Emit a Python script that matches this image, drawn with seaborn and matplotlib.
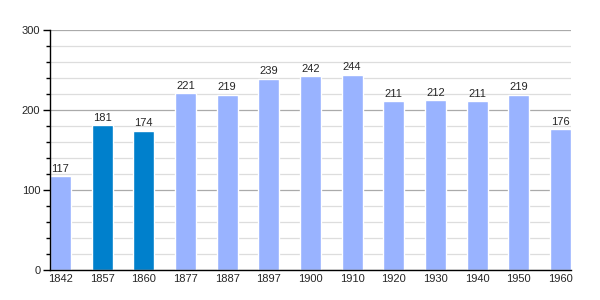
import matplotlib
matplotlib.use("Agg")
import matplotlib.pyplot as plt
import seaborn as sns
import pandas as pd
from matplotlib.ticker import MultipleLocator

years = ["1842", "1857", "1860", "1877", "1887", "1897", "1900", "1910", "1920", "1930", "1940", "1950", "1960"]
population = [117, 181, 174, 221, 219, 239, 242, 244, 211, 212, 211, 219, 176]
highlight = [False, True, True, False, False, False, False, False, False, False, False, False, False]

light = "#99b3ff"
dark = "#0080cc"

df = pd.DataFrame({"year": years, "pop": population, "hl": highlight})
colors = [dark if h else light for h in highlight]

sns.set_style("white")
plt.rcParams['font.family'] = ['Liberation Sans', 'DejaVu Sans']

fig = plt.figure(figsize=(6, 3), dpi=100)
ax = fig.add_axes([50/600, 30/300, 521/600, 240/300])

sns.barplot(data=df, x="year", y="pop", hue="year", palette=colors, legend=False,
            width=0.5, ax=ax, saturation=1)

ax.set_xlim(-0.25, len(years) - 0.75)
ax.set_ylim(0, 300)
ax.yaxis.set_major_locator(MultipleLocator(100))
ax.yaxis.set_minor_locator(MultipleLocator(20))
ax.grid(which="major", axis="y", color="#aaaaaa", linewidth=0.9)
ax.grid(which="minor", axis="y", color="#dddddd", linewidth=0.9)
ax.set_axisbelow(True)

for s in ["top", "right"]:
    ax.spines[s].set_visible(False)
for s in ["left", "bottom"]:
    ax.spines[s].set_color("black")
    ax.spines[s].set_linewidth(1)

ax.tick_params(axis="y", which="major", length=5, width=1, color="black", labelsize=8, left=True, pad=2)
ax.tick_params(axis="y", which="minor", length=3, width=1, color="black", left=True)
ax.tick_params(axis="x", length=0, labelsize=8, pad=3)
ax.set_xlabel("")
ax.set_ylabel("")

for i, v in enumerate(population):
    ax.text(i, v + 3, str(v), ha="center", va="bottom", fontsize=8)

fig.savefig("out.png", dpi=100)
